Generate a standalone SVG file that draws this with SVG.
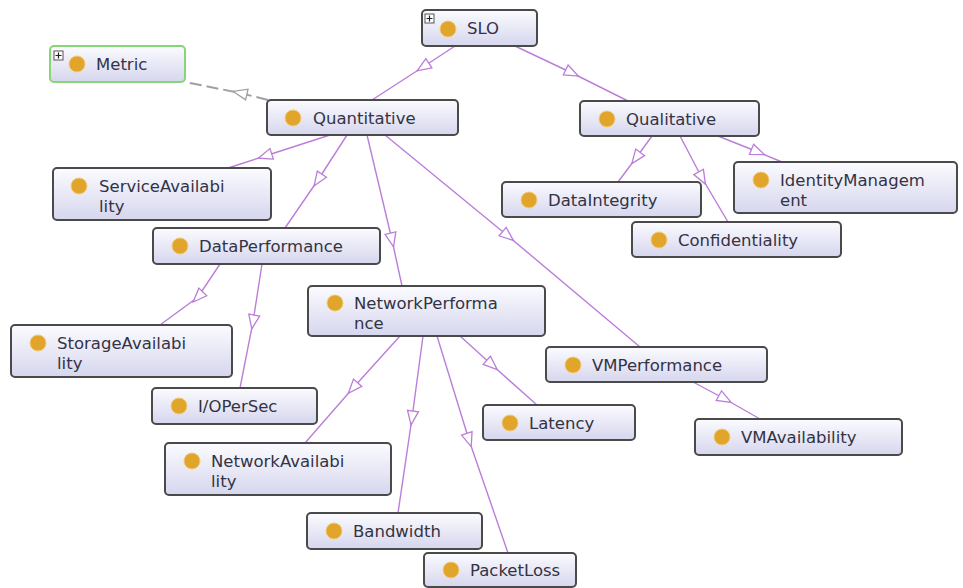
<svg xmlns="http://www.w3.org/2000/svg" width="963" height="588" viewBox="0 0 963 588">
  <defs>
    <linearGradient id="boxFill" x1="0" y1="0" x2="0" y2="1">
      <stop offset="0" stop-color="#fbfbff"/>
      <stop offset="1" stop-color="#d6d6ee"/>
    </linearGradient>
    <marker id="tri" viewBox="0 0 16 14" refX="8" refY="7" markerWidth="16" markerHeight="14" orient="auto" markerUnits="userSpaceOnUse">
      <path d="M1,1.5 L15,7 L1,12.5 Z" fill="#ffffff" stroke="#bb7ed8" stroke-width="1.3"/>
    </marker>
    <marker id="triGray" viewBox="0 0 16 14" refX="8" refY="7" markerWidth="16" markerHeight="14" orient="auto" markerUnits="userSpaceOnUse">
      <path d="M1,1.5 L15,7 L1,12.5 Z" fill="#ffffff" stroke="#a0a0a0" stroke-width="1.3"/>
    </marker>
  </defs>
  <style>
    .box { fill: url(#boxFill); stroke: #4a4a4a; stroke-width: 2; }
    .box.ext { stroke: #86d676; }
    .dot { fill: #e0a52a; stroke: #f0cc7a; stroke-width: 1; }
    .lbl { font-family: "DejaVu Sans", "Liberation Sans", sans-serif; font-size: 16.5px; fill: #333344; }
    .plus { fill: #ffffff; stroke: #555555; stroke-width: 1; }
    .plusmark { stroke: #222222; stroke-width: 1.2; }
    .edge { fill: none; stroke: #bb7ed8; stroke-width: 1.4; marker-mid: url(#tri); }
    .edge.dash { stroke: #a0a0a0; stroke-width: 2; stroke-dasharray: 12 5; marker-mid: url(#triGray); }
  </style>

  <rect width="963" height="588" fill="#ffffff"/>

  <!-- subclass links, each path passes through its arrowhead point -->
  <g id="connectors">
    <path class="edge" d="M455,46 L423,67 L372,100"/>
    <path class="edge" d="M515,46 L572,73 L628,101"/>
    <path class="edge dash" d="M268,100 L240,93 L185,82"/>
    <path class="edge" d="M330,135 L265,156 L228,168"/>
    <path class="edge" d="M347,135 L318,180 L285,228"/>
    <path class="edge" d="M367,135 L392,240 L402,286"/>
    <path class="edge" d="M385,135 L508,236 L640,347"/>
    <path class="edge" d="M652,136 L636,158 L618,182"/>
    <path class="edge" d="M680,136 L702,178 L728,222"/>
    <path class="edge" d="M718,136 L758,152 L782,162"/>
    <path class="edge" d="M220,264 L198,297 L160,325"/>
    <path class="edge" d="M262,264 L253,322 L240,388"/>
    <path class="edge" d="M400,336 L353,388 L305,443"/>
    <path class="edge" d="M423,336 L412,418 L398,513"/>
    <path class="edge" d="M437,336 L469,440 L508,553"/>
    <path class="edge" d="M460,336 L492,365 L537,405"/>
    <path class="edge" d="M693,382 L725,399 L760,419"/>
  </g>

  <g id="SLO">
    <rect class="box" x="422" y="10" width="115" height="36" rx="4"/>
    <rect class="plus" x="425" y="14" width="9" height="9"/>
    <path class="plusmark" d="M426.5,18.5 H432.5 M429.5,15.5 V21.5"/>
    <circle class="dot" cx="448" cy="29" r="8"/>
    <text class="lbl" x="467" y="34">SLO</text>
  </g>

  <g id="Metric">
    <rect class="box ext" x="50" y="46" width="135" height="36" rx="4"/>
    <rect class="plus" x="54" y="51" width="9" height="9"/>
    <path class="plusmark" d="M55.5,55.5 H61.5 M58.5,52.5 V58.5"/>
    <circle class="dot" cx="77" cy="64" r="8"/>
    <text class="lbl" x="96" y="70">Metric</text>
  </g>

  <g id="Quantitative">
    <rect class="box" x="267" y="100" width="191" height="35" rx="4"/>
    <circle class="dot" cx="293" cy="118" r="8"/>
    <text class="lbl" x="313" y="124">Quantitative</text>
  </g>

  <g id="Qualitative">
    <rect class="box" x="580" y="101" width="179" height="35" rx="4"/>
    <circle class="dot" cx="607" cy="119" r="8"/>
    <text class="lbl" x="626" y="125">Qualitative</text>
  </g>

  <g id="ServiceAvailability">
    <rect class="box" x="53" y="168" width="218" height="52" rx="4"/>
    <circle class="dot" cx="79" cy="186" r="8"/>
    <text class="lbl" x="99" y="192">ServiceAvailabi</text>
    <text class="lbl" x="99" y="212">lity</text>
  </g>

  <g id="DataPerformance">
    <rect class="box" x="153" y="228" width="227" height="36" rx="4"/>
    <circle class="dot" cx="180" cy="246" r="8"/>
    <text class="lbl" x="199" y="252">DataPerformance</text>
  </g>

  <g id="DataIntegrity">
    <rect class="box" x="502" y="182" width="199" height="35" rx="4"/>
    <circle class="dot" cx="529" cy="200" r="8"/>
    <text class="lbl" x="548" y="206">DataIntegrity</text>
  </g>

  <g id="IdentityManagement">
    <rect class="box" x="734" y="162" width="223" height="51" rx="4"/>
    <circle class="dot" cx="761" cy="180" r="8"/>
    <text class="lbl" x="780" y="186">IdentityManagem</text>
    <text class="lbl" x="780" y="206">ent</text>
  </g>

  <g id="Confidentiality">
    <rect class="box" x="632" y="222" width="209" height="35" rx="4"/>
    <circle class="dot" cx="659" cy="240" r="8"/>
    <text class="lbl" x="678" y="246">Confidentiality</text>
  </g>

  <g id="NetworkPerformance">
    <rect class="box" x="308" y="286" width="237" height="50" rx="4"/>
    <circle class="dot" cx="335" cy="303" r="8"/>
    <text class="lbl" x="354" y="309">NetworkPerforma</text>
    <text class="lbl" x="354" y="329">nce</text>
  </g>

  <g id="StorageAvailability">
    <rect class="box" x="11" y="325" width="221" height="52" rx="4"/>
    <circle class="dot" cx="38" cy="343" r="8"/>
    <text class="lbl" x="57" y="349">StorageAvailabi</text>
    <text class="lbl" x="57" y="369">lity</text>
  </g>

  <g id="VMPerformance">
    <rect class="box" x="546" y="347" width="221" height="35" rx="4"/>
    <circle class="dot" cx="573" cy="365" r="8"/>
    <text class="lbl" x="592" y="371">VMPerformance</text>
  </g>

  <g id="IOPerSec">
    <rect class="box" x="152" y="388" width="165" height="36" rx="4"/>
    <circle class="dot" cx="179" cy="406" r="8"/>
    <text class="lbl" x="198" y="412">I/OPerSec</text>
  </g>

  <g id="Latency">
    <rect class="box" x="483" y="405" width="152" height="35" rx="4"/>
    <circle class="dot" cx="510" cy="423" r="8"/>
    <text class="lbl" x="529" y="429">Latency</text>
  </g>

  <g id="VMAvailability">
    <rect class="box" x="695" y="419" width="207" height="36" rx="4"/>
    <circle class="dot" cx="722" cy="437" r="8"/>
    <text class="lbl" x="741" y="443">VMAvailability</text>
  </g>

  <g id="NetworkAvailability">
    <rect class="box" x="165" y="443" width="226" height="52" rx="4"/>
    <circle class="dot" cx="192" cy="461" r="8"/>
    <text class="lbl" x="211" y="467">NetworkAvailabi</text>
    <text class="lbl" x="211" y="487">lity</text>
  </g>

  <g id="Bandwidth">
    <rect class="box" x="307" y="513" width="175" height="36" rx="4"/>
    <circle class="dot" cx="334" cy="531" r="8"/>
    <text class="lbl" x="353" y="537">Bandwidth</text>
  </g>

  <g id="PacketLoss">
    <rect class="box" x="424" y="553" width="152" height="34" rx="4"/>
    <circle class="dot" cx="451" cy="570" r="8"/>
    <text class="lbl" x="470" y="576">PacketLoss</text>
  </g>
</svg>
